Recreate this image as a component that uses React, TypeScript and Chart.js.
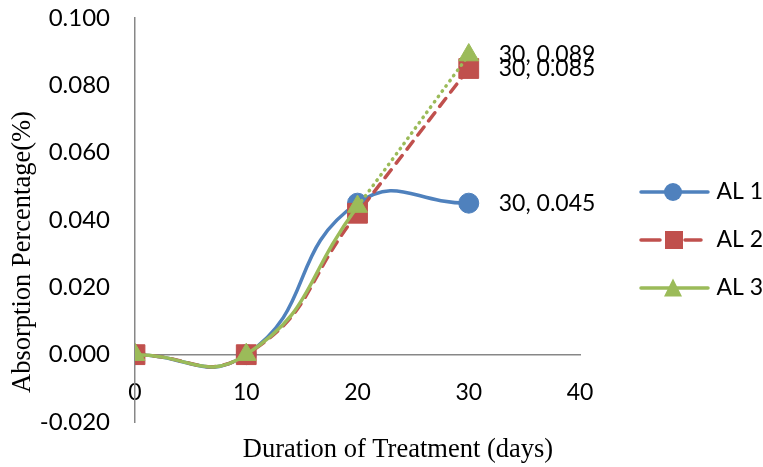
import { useEffect, useRef } from "react";
import { Chart, registerables } from "chart.js";

Chart.register(...registerables);

// ---- data ----
const days = [0, 10, 20, 30];
const al1 = [0, 0, 0.045, 0.045];
const al2 = [0, 0, 0.042, 0.085];
const al3 = [0, 0, 0.044, 0.089];
const seriesNames = ["AL 1", "AL 2", "AL 3"];
const xTicks = [0, 10, 20, 30, 40];
const yTicks = [-0.02, 0, 0.02, 0.04, 0.06, 0.08, 0.1];
const xTitle = "Duration of Treatment (days)";
const yTitle = "Absorption Percentage(%)";

const BLUE = "#4F81BD";
const RED = "#C0504D";
const GREEN = "#9BBB59";
const AXIS = "#878787";

function makeIcon(color: string, kind: string): HTMLCanvasElement {
  const c = document.createElement("canvas");
  c.width = 110;
  c.height = 30;
  const g = c.getContext("2d")!;
  g.strokeStyle = color;
  g.fillStyle = color;
  g.lineWidth = 3.5;
  g.lineCap = "round";
  const cy = 15;
  g.beginPath();
  if (kind === "rect") {
    g.moveTo(41, cy);
    g.lineTo(60, cy);
    g.moveTo(85, cy);
    g.lineTo(101, cy);
  } else {
    g.moveTo(41, cy);
    g.lineTo(108, cy);
  }
  g.stroke();
  const mx = 73;
  if (kind === "circle") {
    g.beginPath();
    g.arc(mx, cy, 9, 0, Math.PI * 2);
    g.fill();
  } else if (kind === "rect") {
    g.fillRect(mx - 8, cy - 9, 18, 18);
  } else {
    g.beginPath();
    g.moveTo(mx, cy - 9.5);
    g.lineTo(mx + 9, cy + 8.5);
    g.lineTo(mx - 9, cy + 8.5);
    g.closePath();
    g.fill();
  }
  return c;
}

const pointLabels = {
  id: "pointLabels",
  afterDatasetsDraw(chart: any) {
    const ctx = chart.ctx;
    ctx.save();
    ctx.font = "23px Lato";
    ctx.fillStyle = "#000";
    ctx.textBaseline = "middle";
    ctx.textAlign = "left";
    chart.data.datasets.forEach((ds: any, i: number) => {
      const meta = chart.getDatasetMeta(i);
      const last = meta.data.length - 1;
      const el = meta.data[last];
      const raw = ds.data[last];
      ctx.fillText(`${raw.x}, ${raw.y.toFixed(3)}`, el.x + 30, el.y);
    });
    ctx.restore();
  },
};

const axisTitles = {
  id: "axisTitles",
  afterDraw(chart: any) {
    const ctx = chart.ctx;
    ctx.save();
    ctx.font = "26.5px 'Liberation Serif'";
    ctx.fillStyle = "#000";
    ctx.textAlign = "center";
    ctx.textBaseline = "middle";
    ctx.fillText(xTitle, 398, 450);
    ctx.translate(23, 252);
    ctx.rotate(-Math.PI / 2);
    ctx.fillText(yTitle, 0, 0);
    ctx.restore();
  },
};

export default function App() {
  const ref = useRef<HTMLCanvasElement>(null);

  useEffect(() => {
    if (!ref.current) return;
    const icons = [makeIcon(BLUE, "circle"), makeIcon(RED, "rect"), makeIcon(GREEN, "triangle")];
    const series = [al1, al2, al3];
    const colors = [BLUE, RED, GREEN];
    const styles = ["circle", "rect", "triangle"];
    const radii = [10, 14, 11.5];

    const datasets = series.map((vals, i) => {
      const ds: any = {
        label: seriesNames[i],
        data: days.map((d, k) => ({ x: d, y: vals[k] })),
        xAxisID: "x",
        yAxisID: "y",
        borderColor: colors[i],
        backgroundColor: colors[i],
        borderWidth: 3.5,
        borderCapStyle: "round",
        pointStyle: styles[i],
        pointRadius: radii[i],
        pointHoverRadius: radii[i],
        pointBorderWidth: 1,
        pointBorderColor: colors[i],
        pointBackgroundColor: colors[i],
        tension: 0.5,
        fill: false,
        order: 3 - i,
      };
      if (i === 1) ds.borderDash = [10, 8];
      if (i === 2)
        ds.segment = {
          borderDash: (c: any) => (c.p0DataIndex >= 2 ? [0.5, 6] : undefined),
        };
      return ds;
    });

    const chart = new Chart(ref.current, {
      type: "line",
      data: { datasets },
      plugins: [pointLabels, axisTitles],
      options: {
        animation: false,
        responsive: true,
        maintainAspectRatio: false,
        layout: { padding: { top: 18, bottom: 5, left: 0, right: 0 } },
        plugins: {
          tooltip: { enabled: false },
          legend: {
            position: "right",
            align: "center",
            maxWidth: 183,
            labels: {
              usePointStyle: true,
              pointStyleWidth: 100,
              padding: 25,
              color: "#000",
              font: { family: "Lato", size: 23 },
              generateLabels: (ch: any) =>
                ch.data.datasets.map((d: any, i: number) => ({
                  text: d.label,
                  pointStyle: icons[i],
                  datasetIndex: i,
                  hidden: false,
                  fillStyle: "transparent",
                  strokeStyle: "transparent",
                  lineWidth: 0,
                })),
            },
          },
        },
        scales: {
          x: {
            type: "linear",
            position: { y: 0 } as any,
            min: 0,
            max: 40,
            afterBuildTicks: (s: any) => {
              s.ticks = xTicks.map((v) => ({ value: v }));
            },
            afterFit: (s: any) => {
              s.height = 0;
            },
            ticks: {
              color: "#000",
              font: { family: "Lato", size: 23 },
              padding: 24,
              callback: (v: any) => String(v),
            },
            grid: { display: false, drawTicks: false },
            border: { display: true, color: AXIS, width: 1.5 },
          },
          x2: {
            type: "linear",
            axis: "x",
            position: "bottom",
            min: 0,
            max: 40,
            ticks: { display: false },
            grid: { display: false, drawTicks: false },
            border: { display: false },
            afterFit: (s: any) => {
              s.height = 40;
            },
          } as any,
          y: {
            type: "linear",
            position: "left",
            min: -0.02,
            max: 0.1,
            afterBuildTicks: (s: any) => {
              s.ticks = yTicks.map((v) => ({ value: v }));
            },
            afterFit: (s: any) => {
              s.width = 135;
              s.paddingTop = 0;
              s.paddingBottom = 0;
            },
            ticks: {
              color: "#000",
              font: { family: "Lato", size: 24 },
              padding: 25,
              callback: (v: any) => Number(v).toFixed(3),
            },
            grid: { display: false, drawTicks: false },
            border: { display: true, color: AXIS, width: 1.5 },
          },
        },
      } as any,
    });
    return () => chart.destroy();
  }, []);

  return (
    <div style={{ position: "absolute", left: 0, top: 0, width: 763, height: 467, background: "#fff" }}>
      <canvas ref={ref} />
    </div>
  );
}
